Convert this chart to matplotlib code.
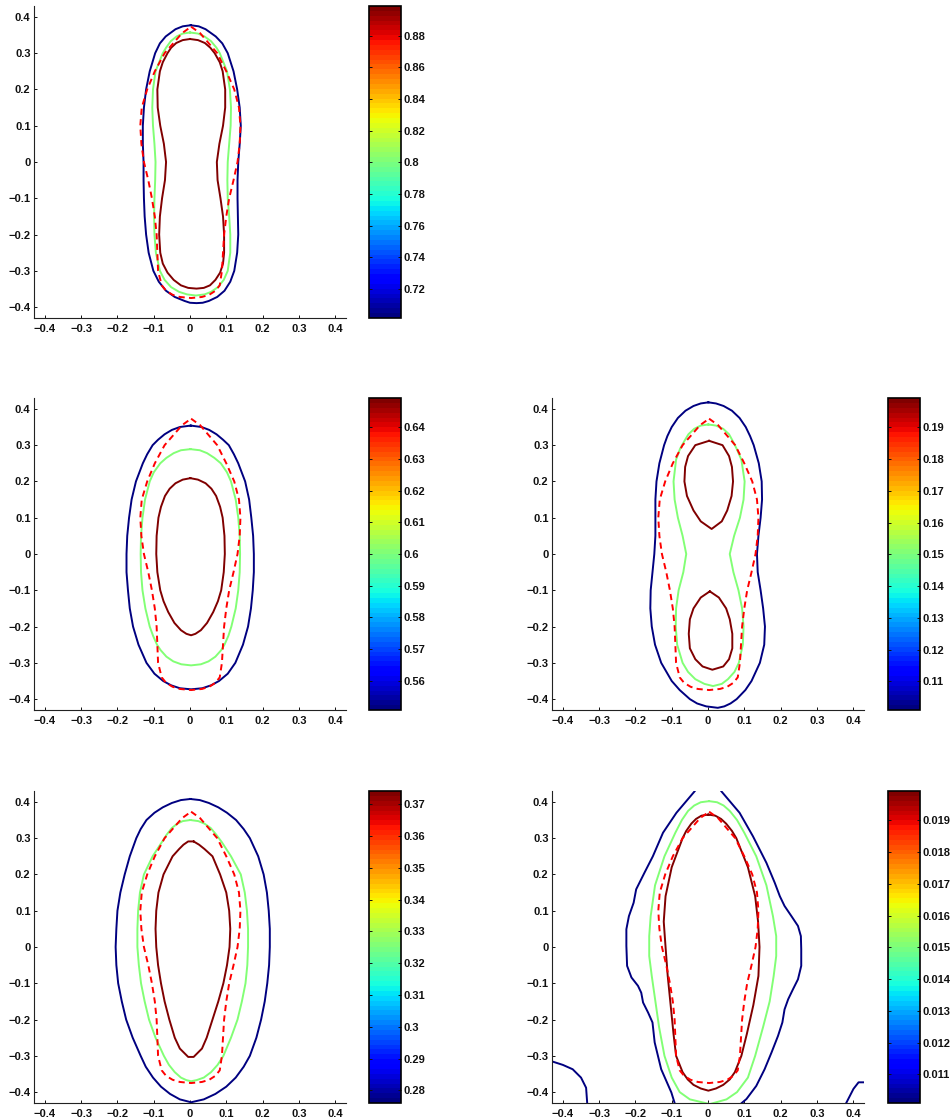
import matplotlib
matplotlib.use("Agg")
import matplotlib.pyplot as plt
from matplotlib.colors import Normalize
from matplotlib.cm import ScalarMappable
from matplotlib.ticker import FuncFormatter

plt.rcParams['font.family'] = ['Liberation Sans', 'DejaVu Sans']
plt.rcParams['font.weight'] = 'bold'
plt.rcParams['font.size'] = 8

AXIS_TICKS = [-0.4, -0.3, -0.2, -0.1, 0.0, 0.1, 0.2, 0.3, 0.4]
AXIS_LIM = (-0.43, 0.43)

# Closed curves are given as rows (y, x_left, x_right) from top to bottom.
# Reference boundary, drawn dashed in every panel
REF_SHAPE = [
    (0.373, 0.003, 0.003), (0.355, -0.022, 0.028), (0.30, -0.070, 0.075),
    (0.25, -0.097, 0.100), (0.20, -0.118, 0.122), (0.15, -0.133, 0.135),
    (0.10, -0.137, 0.139), (0.05, -0.134, 0.137), (0.00, -0.127, 0.131),
    (-0.05, -0.115, 0.120), (-0.10, -0.105, 0.108), (-0.15, -0.097, 0.100),
    (-0.20, -0.092, 0.094), (-0.25, -0.090, 0.091), (-0.30, -0.088, 0.088),
    (-0.34, -0.078, 0.082), (-0.355, -0.066, 0.070), (-0.366, -0.048, 0.053),
    (-0.372, -0.028, 0.033), (-0.375, 0.003, 0.003),
]

# ---- panel 1 ----
P1_LEVELS = [0.7015, 0.8002, 0.8989]
P1_TICKS = [0.72, 0.74, 0.76, 0.78, 0.80, 0.82, 0.84, 0.86, 0.88]
P1_LOW = [
    (0.377, 0.002, 0.002), (0.374, -0.020, 0.024), (0.366, -0.040, 0.043),
    (0.346, -0.067, 0.071), (0.327, -0.083, 0.089), (0.30, -0.096, 0.104),
    (0.25, -0.111, 0.120), (0.20, -0.121, 0.130), (0.15, -0.127, 0.137),
    (0.10, -0.130, 0.140), (0.05, -0.130, 0.137), (0.00, -0.128, 0.133),
    (-0.05, -0.128, 0.131), (-0.10, -0.127, 0.131), (-0.15, -0.125, 0.132),
    (-0.20, -0.121, 0.133), (-0.25, -0.114, 0.130), (-0.30, -0.101, 0.122),
    (-0.33, -0.086, 0.111), (-0.355, -0.066, 0.095), (-0.372, -0.042, 0.075),
    (-0.383, -0.015, 0.052), (-0.388, 0.000, 0.035), (-0.389, 0.018, 0.018),
]
P1_MID = [
    (0.357, 0.000, 0.000), (0.354, -0.020, 0.022), (0.346, -0.037, 0.040),
    (0.333, -0.053, 0.058), (0.315, -0.066, 0.073), (0.30, -0.075, 0.082),
    (0.25, -0.095, 0.102), (0.20, -0.102, 0.110), (0.15, -0.104, 0.113),
    (0.10, -0.102, 0.112), (0.05, -0.098, 0.108), (0.00, -0.095, 0.104),
    (-0.05, -0.096, 0.103), (-0.10, -0.098, 0.104), (-0.15, -0.099, 0.108),
    (-0.20, -0.098, 0.111), (-0.25, -0.094, 0.111), (-0.30, -0.083, 0.104),
    (-0.325, -0.070, 0.093), (-0.345, -0.052, 0.077), (-0.358, -0.030, 0.058),
    (-0.365, -0.008, 0.040), (-0.368, 0.016, 0.016),
]
P1_HIGH = [
    (0.339, 0.000, 0.000), (0.336, -0.020, 0.022), (0.328, -0.038, 0.041),
    (0.315, -0.052, 0.056), (0.30, -0.062, 0.068), (0.275, -0.075, 0.082),
    (0.25, -0.083, 0.090), (0.20, -0.090, 0.097), (0.15, -0.089, 0.097),
    (0.10, -0.082, 0.091), (0.05, -0.072, 0.081), (0.00, -0.066, 0.074),
    (-0.05, -0.069, 0.076), (-0.10, -0.077, 0.084), (-0.15, -0.083, 0.091),
    (-0.20, -0.085, 0.094), (-0.25, -0.082, 0.094), (-0.28, -0.075, 0.091),
    (-0.305, -0.062, 0.083), (-0.325, -0.045, 0.070), (-0.34, -0.025, 0.055),
    (-0.347, -0.005, 0.038), (-0.349, 0.018, 0.018),
]

# ---- panel 2 ----
P2_LEVELS = [0.5507, 0.6000, 0.6493]
P2_TICKS = [0.56, 0.57, 0.58, 0.59, 0.60, 0.61, 0.62, 0.63, 0.64]
P2_LOW = [
    (0.354, 0.002, 0.002), (0.35, -0.028, 0.032), (0.342, -0.050, 0.053),
    (0.33, -0.070, 0.073), (0.315, -0.088, 0.091), (0.30, -0.103, 0.107),
    (0.275, -0.118, 0.121), (0.25, -0.130, 0.133), (0.20, -0.149, 0.152),
    (0.15, -0.161, 0.163), (0.10, -0.168, 0.169), (0.05, -0.173, 0.174),
    (0.00, -0.175, 0.176), (-0.05, -0.175, 0.176), (-0.10, -0.171, 0.173),
    (-0.15, -0.166, 0.168), (-0.20, -0.157, 0.160), (-0.25, -0.142, 0.146),
    (-0.30, -0.120, 0.125), (-0.33, -0.098, 0.104), (-0.35, -0.074, 0.080),
    (-0.362, -0.052, 0.058), (-0.37, -0.028, 0.034), (-0.373, 0.003, 0.003),
]
P2_MID = [
    (0.289, 0.001, 0.001), (0.286, -0.025, 0.027), (0.278, -0.045, 0.047),
    (0.265, -0.065, 0.067), (0.25, -0.082, 0.085), (0.225, -0.100, 0.102),
    (0.20, -0.111, 0.113), (0.15, -0.124, 0.126), (0.10, -0.131, 0.133),
    (0.05, -0.135, 0.137), (0.00, -0.136, 0.138), (-0.05, -0.135, 0.137),
    (-0.10, -0.131, 0.133), (-0.15, -0.123, 0.126), (-0.20, -0.111, 0.114),
    (-0.225, -0.102, 0.106), (-0.25, -0.091, 0.095), (-0.265, -0.081, 0.086),
    (-0.283, -0.065, 0.070), (-0.296, -0.046, 0.051), (-0.304, -0.024, 0.030),
    (-0.307, 0.003, 0.003),
]
P2_HIGH = [
    (0.209, 0.001, 0.001), (0.205, -0.020, 0.022), (0.195, -0.040, 0.043),
    (0.18, -0.056, 0.059), (0.16, -0.069, 0.072), (0.13, -0.080, 0.083),
    (0.10, -0.087, 0.090), (0.05, -0.092, 0.095), (0.00, -0.093, 0.096),
    (-0.05, -0.090, 0.093), (-0.10, -0.082, 0.086), (-0.13, -0.073, 0.077),
    (-0.16, -0.060, 0.064), (-0.19, -0.043, 0.047), (-0.21, -0.025, 0.030),
    (-0.22, -0.010, 0.015), (-0.224, 0.003, 0.003),
]

# ---- panel 3 ----
P3_LEVELS = [0.1010, 0.1501, 0.1992]
P3_TICKS = [0.11, 0.12, 0.13, 0.14, 0.15, 0.16, 0.17, 0.18, 0.19]
P3_LOW = [
    (0.418, 0.001, 0.001), (0.415, -0.020, 0.022), (0.408, -0.040, 0.043),
    (0.395, -0.062, 0.066), (0.375, -0.083, 0.087), (0.35, -0.100, 0.104),
    (0.325, -0.112, 0.116), (0.30, -0.121, 0.126), (0.25, -0.134, 0.140),
    (0.20, -0.142, 0.148), (0.15, -0.145, 0.149), (0.10, -0.145, 0.145),
    (0.05, -0.145, 0.139), (0.00, -0.148, 0.135), (-0.05, -0.153, 0.137),
    (-0.10, -0.158, 0.145), (-0.15, -0.159, 0.152), (-0.20, -0.155, 0.157),
    (-0.25, -0.146, 0.155), (-0.30, -0.129, 0.143), (-0.35, -0.100, 0.120),
    (-0.375, -0.078, 0.103), (-0.40, -0.050, 0.079), (-0.412, -0.030, 0.062),
    (-0.42, -0.005, 0.045), (-0.424, 0.027, 0.027),
]
P3_MID = [
    (0.357, 0.001, 0.001), (0.354, -0.020, 0.022), (0.345, -0.038, 0.042),
    (0.33, -0.054, 0.058), (0.31, -0.066, 0.069), (0.29, -0.077, 0.079),
    (0.26, -0.088, 0.092), (0.20, -0.095, 0.101), (0.15, -0.092, 0.098),
    (0.10, -0.083, 0.088), (0.05, -0.070, 0.072), (0.00, -0.060, 0.060),
    (-0.05, -0.068, 0.070), (-0.10, -0.081, 0.084), (-0.15, -0.088, 0.094),
    (-0.20, -0.089, 0.098), (-0.25, -0.085, 0.096), (-0.30, -0.070, 0.085),
    (-0.325, -0.055, 0.073), (-0.345, -0.035, 0.055), (-0.358, -0.010, 0.038),
    (-0.364, 0.014, 0.014),
]
P3_HIGH_UPPER = [
    (0.312, 0.003, 0.003), (0.30, -0.035, 0.040), (0.27, -0.055, 0.058),
    (0.24, -0.063, 0.066), (0.20, -0.065, 0.069), (0.16, -0.058, 0.065),
    (0.12, -0.040, 0.053), (0.09, -0.020, 0.038), (0.069, 0.010, 0.010),
]
P3_HIGH_LOWER = [
    (-0.103, 0.005, 0.005), (-0.12, -0.020, 0.030), (-0.15, -0.040, 0.050),
    (-0.18, -0.050, 0.060), (-0.22, -0.053, 0.067), (-0.26, -0.050, 0.067),
    (-0.29, -0.035, 0.058), (-0.31, -0.015, 0.042), (-0.319, 0.012, 0.012),
]

# ---- panel 4 ----
P4_LEVELS = [0.2760, 0.3251, 0.3742]
P4_TICKS = [0.28, 0.29, 0.30, 0.31, 0.32, 0.33, 0.34, 0.35, 0.36, 0.37]
P4_LOW = [
    (0.408, 0.001, 0.001), (0.405, -0.025, 0.027), (0.397, -0.050, 0.052),
    (0.385, -0.075, 0.078), (0.37, -0.098, 0.102), (0.35, -0.120, 0.127),
    (0.325, -0.136, 0.148), (0.30, -0.148, 0.165), (0.25, -0.166, 0.188),
    (0.20, -0.180, 0.203), (0.15, -0.192, 0.212), (0.10, -0.200, 0.217),
    (0.05, -0.203, 0.220), (0.00, -0.205, 0.220), (-0.05, -0.203, 0.218),
    (-0.10, -0.198, 0.213), (-0.15, -0.188, 0.206), (-0.20, -0.176, 0.196),
    (-0.25, -0.158, 0.183), (-0.30, -0.136, 0.165), (-0.33, -0.122, 0.148),
    (-0.36, -0.102, 0.126), (-0.385, -0.080, 0.100), (-0.405, -0.055, 0.070),
    (-0.42, -0.028, 0.038), (-0.428, 0.003, 0.003),
]
P4_MID = [
    (0.350, 0.001, 0.001), (0.347, -0.020, 0.023), (0.34, -0.035, 0.040),
    (0.328, -0.050, 0.057), (0.31, -0.064, 0.072), (0.29, -0.077, 0.087),
    (0.27, -0.090, 0.100), (0.25, -0.103, 0.113), (0.20, -0.127, 0.140),
    (0.15, -0.138, 0.151), (0.10, -0.143, 0.157), (0.05, -0.145, 0.160),
    (0.00, -0.145, 0.160), (-0.05, -0.141, 0.158), (-0.10, -0.135, 0.153),
    (-0.15, -0.125, 0.143), (-0.20, -0.113, 0.131), (-0.25, -0.095, 0.113),
    (-0.30, -0.072, 0.092), (-0.325, -0.058, 0.076), (-0.345, -0.042, 0.058),
    (-0.36, -0.025, 0.038), (-0.367, -0.010, 0.018), (-0.370, 0.003, 0.003),
]
P4_HIGH = [
    (0.291, -0.005, 0.010), (0.282, -0.018, 0.025), (0.27, -0.030, 0.040),
    (0.25, -0.048, 0.062), (0.20, -0.073, 0.083), (0.15, -0.087, 0.100),
    (0.10, -0.093, 0.108), (0.05, -0.095, 0.111), (0.00, -0.093, 0.109),
    (-0.05, -0.088, 0.102), (-0.10, -0.080, 0.092), (-0.15, -0.070, 0.078),
    (-0.20, -0.057, 0.062), (-0.25, -0.042, 0.046), (-0.28, -0.028, 0.033),
    (-0.303, -0.005, 0.010),
]

# ---- panel 5 ----
P5_LEVELS = [0.01010, 0.01501, 0.01992]
P5_TICKS = [0.011, 0.012, 0.013, 0.014, 0.015, 0.016, 0.017, 0.018, 0.019]
# the lowest level is open: (x, y) pieces leaving the plotting window
P5_LOW_LEFT = [
    (-0.037, 0.429), (-0.087, 0.370), (-0.124, 0.315), (-0.152, 0.250),
    (-0.175, 0.205), (-0.198, 0.159), (-0.205, 0.122), (-0.218, 0.085),
    (-0.225, 0.049), (-0.225, 0.003), (-0.223, -0.052), (-0.211, -0.084),
    (-0.193, -0.107), (-0.184, -0.126), (-0.179, -0.153), (-0.165, -0.181),
    (-0.153, -0.208), (-0.147, -0.263), (-0.138, -0.300), (-0.129, -0.337),
    (-0.115, -0.369), (-0.101, -0.401), (-0.092, -0.430),
]
P5_LOW_RIGHT = [
    (0.037, 0.429), (0.087, 0.370), (0.124, 0.305), (0.161, 0.232),
    (0.184, 0.177), (0.198, 0.140), (0.211, 0.113), (0.230, 0.085),
    (0.248, 0.058), (0.256, 0.030), (0.257, -0.006), (0.257, -0.052),
    (0.248, -0.089), (0.234, -0.117), (0.221, -0.144), (0.211, -0.172),
    (0.205, -0.208), (0.193, -0.245), (0.175, -0.291), (0.156, -0.337),
    (0.133, -0.383), (0.106, -0.419), (0.093, -0.430),
]
P5_LOW_CORNER_L = [
    (-0.431, -0.315), (-0.400, -0.325), (-0.373, -0.337), (-0.350, -0.360),
    (-0.336, -0.388), (-0.333, -0.430),
]
P5_LOW_CORNER_R = [
    (0.381, -0.430), (0.401, -0.391), (0.415, -0.373), (0.431, -0.373),
]
P5_MID = [
    (0.402, 0.003, 0.003), (0.399, -0.020, 0.025), (0.39, -0.038, 0.043),
    (0.375, -0.055, 0.060), (0.35, -0.072, 0.080), (0.315, -0.090, 0.100),
    (0.25, -0.120, 0.133), (0.17, -0.146, 0.161), (0.085, -0.158, 0.179),
    (0.03, -0.162, 0.188), (-0.025, -0.162, 0.188), (-0.08, -0.155, 0.181),
    (-0.15, -0.145, 0.170), (-0.22, -0.135, 0.152), (-0.30, -0.120, 0.130),
    (-0.36, -0.100, 0.110), (-0.40, -0.078, 0.080), (-0.42, -0.050, 0.051),
    (-0.433, 0.005, 0.005),
]
P5_HIGH = [
    (0.365, 0.001, 0.001), (0.362, -0.018, 0.020), (0.353, -0.033, 0.036),
    (0.34, -0.046, 0.050), (0.32, -0.060, 0.066), (0.30, -0.070, 0.078),
    (0.22, -0.100, 0.110), (0.14, -0.117, 0.130), (0.07, -0.122, 0.138),
    (0.00, -0.117, 0.142), (-0.08, -0.111, 0.139), (-0.16, -0.103, 0.125),
    (-0.24, -0.095, 0.107), (-0.30, -0.088, 0.092), (-0.345, -0.070, 0.074),
    (-0.365, -0.056, 0.060), (-0.38, -0.040, 0.042), (-0.39, -0.020, 0.022),
    (-0.396, 0.001, 0.001),
]

CMAP = matplotlib.colormaps['jet'].resampled(64)
LW = 1.4

FIG_W, FIG_H = 952, 1120
COL_AX = [34, 552]
COL_CB = [369, 888]
ROW_TOP = [6, 398, 791]
AX_W, AX_H, CB_W = 312, 312, 32


def ring(rows):
    ys = [r[0] for r in rows]
    xl = [r[1] for r in rows]
    xr = [r[2] for r in rows]
    return xr + xl[::-1] + [xr[0]], ys + ys[::-1] + [ys[0]]


def fig_rect(x0, y0, w, h):
    return [x0 / FIG_W, 1 - (y0 + h) / FIG_H, w / FIG_W, h / FIG_H]


def fmt_signed(v, _pos=None):
    s = '%g' % round(v, 6)
    return s.replace('-', '\u2212')


fig = plt.figure(figsize=(FIG_W / 100, FIG_H / 100), dpi=100)


def panel(row, col, levels, ticks, curves):
    ax = fig.add_axes(fig_rect(COL_AX[col], ROW_TOP[row], AX_W, AX_H))
    norm = Normalize(levels[0], levels[-1])
    for level_idx, pieces in curves:
        color = CMAP(norm(levels[level_idx]))
        for xs, ys in pieces:
            ax.plot(xs, ys, color=color, lw=LW, solid_joinstyle='round')
    rx, ry = ring(REF_SHAPE)
    ax.plot(rx, ry, color='#ff0000', lw=LW, dashes=(3.2, 2.2))
    ax.set_xlim(*AXIS_LIM)
    ax.set_ylim(*AXIS_LIM)
    ax.set_xticks(AXIS_TICKS)
    ax.set_yticks(AXIS_TICKS)
    ax.xaxis.set_major_formatter(FuncFormatter(fmt_signed))
    ax.yaxis.set_major_formatter(FuncFormatter(fmt_signed))
    for side in ('top', 'right'):
        ax.spines[side].set_visible(False)
    for side in ('left', 'bottom'):
        ax.spines[side].set_linewidth(0.8)
        ax.spines[side].set_color('#222222')
    ax.tick_params(axis='x', direction='in', length=2.5, width=0.7, pad=4,
                   labelsize=8, colors='#111111')
    ax.tick_params(axis='y', direction='in', length=2.5, width=0.7, pad=2.5,
                   labelsize=8, colors='#111111')

    cax = fig.add_axes(fig_rect(COL_CB[col], ROW_TOP[row], CB_W, AX_H))
    sm = ScalarMappable(norm=norm, cmap=CMAP)
    cb = fig.colorbar(sm, cax=cax, ticks=ticks)
    cb.outline.set_linewidth(1.2)
    cb.outline.set_edgecolor('black')
    cax.yaxis.set_major_formatter(FuncFormatter(fmt_signed))
    cax.tick_params(axis='y', direction='in', left=True, right=True,
                    length=2.5, width=0.7, pad=1.5, labelsize=8,
                    colors='#111111')
    return ax


def rings(*shapes):
    return [ring(s) for s in shapes]


def opens(*pieces):
    return [([p[0] for p in pc], [p[1] for p in pc]) for pc in pieces]


panel(0, 0, P1_LEVELS, P1_TICKS,
      [(0, rings(P1_LOW)), (1, rings(P1_MID)), (2, rings(P1_HIGH))])
panel(1, 0, P2_LEVELS, P2_TICKS,
      [(0, rings(P2_LOW)), (1, rings(P2_MID)), (2, rings(P2_HIGH))])
panel(1, 1, P3_LEVELS, P3_TICKS,
      [(0, rings(P3_LOW)), (1, rings(P3_MID)),
       (2, rings(P3_HIGH_UPPER, P3_HIGH_LOWER))])
panel(2, 0, P4_LEVELS, P4_TICKS,
      [(0, rings(P4_LOW)), (1, rings(P4_MID)), (2, rings(P4_HIGH))])
panel(2, 1, P5_LEVELS, P5_TICKS,
      [(0, opens(P5_LOW_LEFT, P5_LOW_RIGHT, P5_LOW_CORNER_L, P5_LOW_CORNER_R)),
       (1, rings(P5_MID)), (2, rings(P5_HIGH))])

fig.savefig('out.png', dpi=100, facecolor='white')
